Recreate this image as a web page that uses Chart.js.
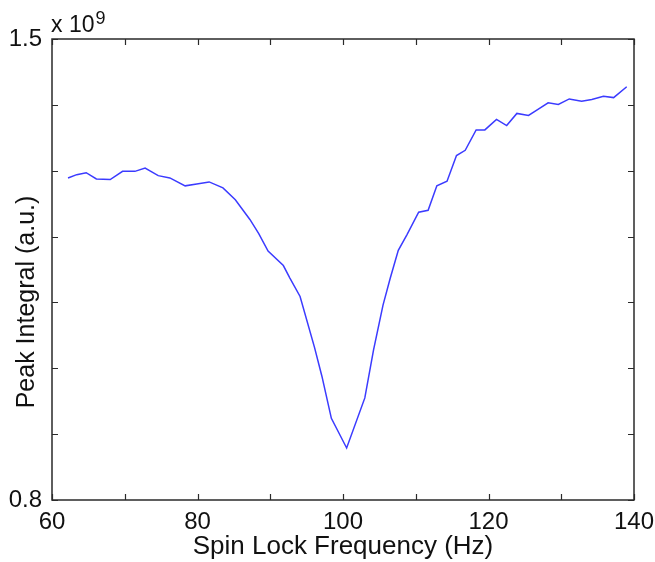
<!DOCTYPE html>
<html>
<head>
<meta charset="utf-8">
<script src="https://cdn.jsdelivr.net/npm/chart.js@4"></script>
<style>
  html, body { margin: 0; padding: 0; background: #fff; }
  #wrap { width: 655px; height: 562px; }
</style>
</head>
<body>
<div id="wrap"><canvas id="peakChart"></canvas></div>
<script>
/* --------------- Data (peak integral in units of 1e9) --------------------- */
const freqHz = [
  62.2, 63.4, 64.7, 66.1, 68.0, 69.7, 71.4, 72.8, 74.6, 76.2,
  78.3, 79.9, 81.6, 83.5, 85.2, 87.2, 88.4, 89.7, 91.8, 92.7,
  94.1, 96.1, 97.1, 98.4, 100.5, 103.0, 104.2, 105.5, 106.5, 107.6,
  108.8, 110.4, 111.7, 112.9, 114.3, 115.6, 116.8, 118.3, 119.5, 121.1,
  122.5, 123.9, 125.5, 126.8, 128.2, 129.6, 131.1, 132.8, 134.2, 135.8,
  137.2, 139.0
];
const peakIntegral = [
  1.289, 1.294, 1.297, 1.2875, 1.2865, 1.299, 1.299, 1.304, 1.2925, 1.289,
  1.277, 1.280, 1.283, 1.274, 1.256, 1.226, 1.205, 1.178, 1.156, 1.137,
  1.109, 1.031, 0.988, 0.924, 0.879, 0.955, 1.028, 1.096, 1.137, 1.179,
  1.203, 1.237, 1.240, 1.277, 1.284, 1.323, 1.331, 1.362, 1.362, 1.378,
  1.3685, 1.387, 1.384, 1.393, 1.403, 1.4005, 1.409, 1.4055, 1.408, 1.413,
  1.411, 1.4275
];
const xLabels = [60, 80, 100, 120, 140];
const yLabels = [0.8, 1.5];
const xTitle = "Spin Lock Frequency (Hz)";
const yTitle = "Peak Integral (a.u.)";

const FONT = "'Liberation Sans', Arial, sans-serif";

/* --------------- Box, inward ticks, y title and exponent --------------------- */
const frame = {
  id: "frame",
  afterDraw(chart) {
    const { ctx, chartArea: a, scales: { x, y } } = chart;
    ctx.save();
    ctx.strokeStyle = "#2a2a2a";
    ctx.lineWidth = 1.5;
    ctx.strokeRect(a.left, a.top, a.right - a.left, a.bottom - a.top);
    ctx.lineWidth = 1.2;
    ctx.beginPath();
    x.ticks.forEach(t => {
      const px = Math.round(x.getPixelForValue(t.value)) + 0.5;
      ctx.moveTo(px, a.bottom); ctx.lineTo(px, a.bottom - 6);
      ctx.moveTo(px, a.top); ctx.lineTo(px, a.top + 6);
    });
    y.ticks.forEach(t => {
      const py = Math.round(y.getPixelForValue(t.value)) + 0.5;
      ctx.moveTo(a.left, py); ctx.lineTo(a.left + 6, py);
      ctx.moveTo(a.right, py); ctx.lineTo(a.right - 6, py);
    });
    ctx.stroke();

    ctx.fillStyle = "#111";
    // y axis title
    ctx.save();
    ctx.translate(27, 302);
    ctx.rotate(-Math.PI / 2);
    ctx.textAlign = "center";
    ctx.textBaseline = "middle";
    ctx.font = "25px " + FONT;
    ctx.fillText(yTitle, 0, 0);
    ctx.restore();

    // exponent label
    ctx.textAlign = "left";
    ctx.textBaseline = "alphabetic";
    ctx.font = "23px " + FONT;
    ctx.fillText("x 10", 51, 32);
    const w = ctx.measureText("x 10").width;
    ctx.font = "18px " + FONT;
    ctx.fillText("9", 51 + w + 1, 24);
    ctx.restore();
  }
};

/* --------------- Chart --------------------- */
const peakChart = new Chart(document.getElementById("peakChart"), {
  type: "line",
  data: {
    datasets: [{
      data: freqHz.map((f, i) => ({ x: f, y: peakIntegral[i] })),
      borderColor: "#3b3bff",
      borderWidth: 1.5,
      pointRadius: 0,
      tension: 0,
      fill: false
    }]
  },
  options: {
    responsive: true,
    maintainAspectRatio: false,
    animation: false,
    layout: { padding: { top: 39, right: 21, left: 0, bottom: 0 } },
    plugins: {
      legend: { display: false },
      tooltip: { enabled: false }
    },
    scales: {
      x: {
        type: "linear",
        min: 60,
        max: 140,
        grid: { display: false },
        border: { display: false },
        ticks: {
          stepSize: 10,
          maxRotation: 0,
          autoSkip: false,
          padding: 0,
          color: "#111",
          font: { family: FONT, size: 24 },
          callback: v => (xLabels.includes(v) ? v : "")
        },
        title: {
          display: true,
          text: xTitle,
          color: "#111",
          font: { family: FONT, size: 26 },
          padding: { top: 0, bottom: 0 }
        },
        afterFit: s => { s.height = 62; s.paddingLeft = 0; s.paddingRight = 0; }
      },
      y: {
        min: 0.8,
        max: 1.5,
        grid: { display: false },
        border: { display: false },
        ticks: {
          stepSize: 0.1,
          autoSkip: false,
          padding: 2,
          color: "#111",
          font: { family: FONT, size: 24 },
          callback: v => (yLabels.some(l => Math.abs(l - v) < 1e-6) ? v.toFixed(1) : "")
        },
        afterFit: s => { s.width = 52; s.paddingTop = 0; s.paddingBottom = 0; }
      }
    }
  },
  plugins: [frame]
});
</script>
</body>
</html>
